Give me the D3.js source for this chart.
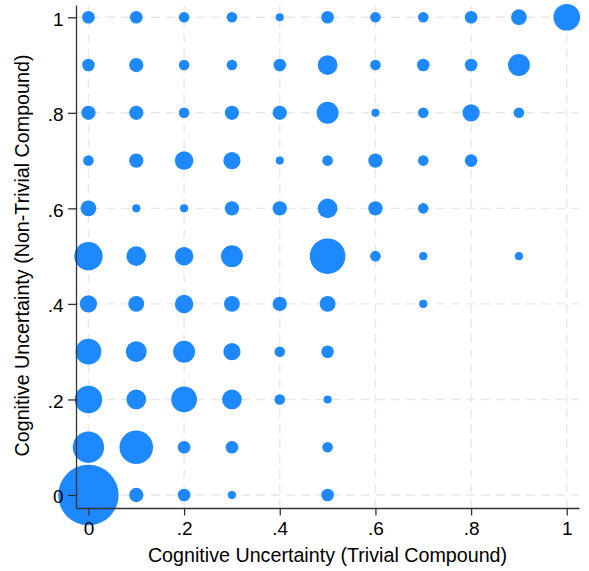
<!DOCTYPE html>
<html>
<head>
<meta charset="utf-8">
<script src="https://cdn.jsdelivr.net/npm/d3@7"></script>
<style>
  html, body { margin: 0; padding: 0; background: #fff; }
  svg { display: block; font-family: "Liberation Sans", Arial, Helvetica, sans-serif; }
</style>
</head>
<body>
<svg id="chart" width="589" height="571"></svg>
<script>
// Response grid shared by both axes (0, 0.1, ..., 1)
const levels = [0, 0.1, 0.2, 0.3, 0.4, 0.5, 0.6, 0.7, 0.8, 0.9, 1];

// Axis ticks and their labels
const tickValues = [0, 0.2, 0.4, 0.6, 0.8, 1];
const tickLabels = ["0", ".2", ".4", ".6", ".8", "1"];

// Number of subjects at each (trivial, non-trivial) pair.
// One array per non-trivial level; entries follow `levels` for the trivial level.
const freqY00 = [79, 4, 3, 1, null, 3, null, null, null, null, null];
const freqY01 = [21, 24, 3, 3, null, 2, null, null, null, null, null];
const freqY02 = [16, 8, 14, 8, 2, 1, null, null, null, null, null];
const freqY03 = [14, 9, 10, 6, 2, 3, null, null, null, null, null];
const freqY04 = [6, 5, 7, 5, 4, 5, null, 1, null, null, null];
const freqY05 = [17, 8, 7, 10, null, 27, 2, 1, null, 1, null];
const freqY06 = [5, 1, 1, 4, 4, 8, 4, 2, null, null, null];
const freqY07 = [2, 4, 7, 6, 1, 2, 4, 2, 3, null, null];
const freqY08 = [4, 4, 2, 4, 4, 10, 1, 2, 6, 2, null];
const freqY09 = [3, 4, 2, 2, 3, 8, 2, 3, 3, 10, null];
const freqY10 = [3, 3, 2, 2, 1, 3, 2, 2, 3, 5, 15];

const freqRows = [freqY00, freqY01, freqY02, freqY03, freqY04, freqY05,
                  freqY06, freqY07, freqY08, freqY09, freqY10];

// Flatten into point records
const points = [];
freqRows.forEach((row, j) => {
  row.forEach((n, i) => {
    if (n != null) points.push({ xv: levels[i], yv: levels[j], n: n });
  });
});

const svg = d3.select("#chart");

// Plot region edges
const plotLeft = 76, plotRight = 579, plotTop = 5, plotBottom = 508;

const x = d3.scaleLinear().domain([-0.026, 1.0256]).range([plotLeft, plotRight]);
const y = d3.scaleLinear().domain([-0.0272, 1.0257]).range([plotBottom, plotTop]);

// Marker area grows linearly with frequency (squared radius in px^2)
const maxN = d3.max(points, d => d.n);
const radiusSq = d3.scaleLinear().domain([0, maxN]).range([5, 5 + 11.5 * maxN]);
const radius = n => Math.sqrt(radiusSq(n));

// Dashed gridlines at major ticks
const grid = svg.append("g").attr("class", "grid")
  .attr("stroke", "#e8e8e8").attr("stroke-width", 1.4)
  .attr("stroke-dasharray", "9,6").attr("fill", "none");

grid.selectAll("line.v").data(tickValues).join("line")
  .attr("class", "v")
  .attr("x1", d => x(d)).attr("x2", d => x(d))
  .attr("y1", plotBottom).attr("y2", plotTop);

grid.selectAll("line.h").data(tickValues).join("line")
  .attr("class", "h")
  .attr("x1", plotLeft).attr("x2", plotRight)
  .attr("y1", d => y(d)).attr("y2", d => y(d));

// Bubbles, larger first so small ones stay visible
svg.append("g").attr("class", "bubbles")
  .selectAll("circle")
  .data(points.slice().sort((a, b) => b.n - a.n))
  .join("circle")
  .attr("cx", d => x(d.xv))
  .attr("cy", d => y(d.yv))
  .attr("r", d => radius(d.n))
  .attr("fill", "#1e88ff");

// Axes
const fmt = d => tickLabels[tickValues.indexOf(d)];

const xAxis = svg.append("g")
  .attr("transform", `translate(0,${plotBottom})`)
  .call(d3.axisBottom(x).tickValues(tickValues).tickFormat(fmt)
        .tickSize(7.5).tickSizeOuter(0).tickPadding(6));

const yAxis = svg.append("g")
  .attr("transform", `translate(${plotLeft},0)`)
  .call(d3.axisLeft(y).tickValues(tickValues).tickFormat(fmt)
        .tickSize(8).tickSizeOuter(0).tickPadding(4.5));

[xAxis, yAxis].forEach(g => {
  g.attr("font-family", null).attr("font-size", null);
  g.select(".domain").attr("stroke", "#333").attr("stroke-width", 1.3);
  g.selectAll(".tick line").attr("stroke", "#333").attr("stroke-width", 1.3);
  g.selectAll(".tick text").attr("fill", "#000").style("font-size", "19px");
});
yAxis.selectAll(".tick text").attr("dy", "0.42em");

// Axis titles
svg.append("text")
  .attr("x", (plotLeft + plotRight) / 2).attr("y", 562)
  .attr("text-anchor", "middle")
  .style("font-size", "19.7px")
  .text("Cognitive Uncertainty (Trivial Compound)");

svg.append("text")
  .attr("transform", `translate(29,${(plotTop + plotBottom) / 2 - 1}) rotate(-90)`)
  .attr("text-anchor", "middle")
  .style("font-size", "19.7px")
  .text("Cognitive Uncertainty (Non-Trivial Compound)");
</script>
</body>
</html>
